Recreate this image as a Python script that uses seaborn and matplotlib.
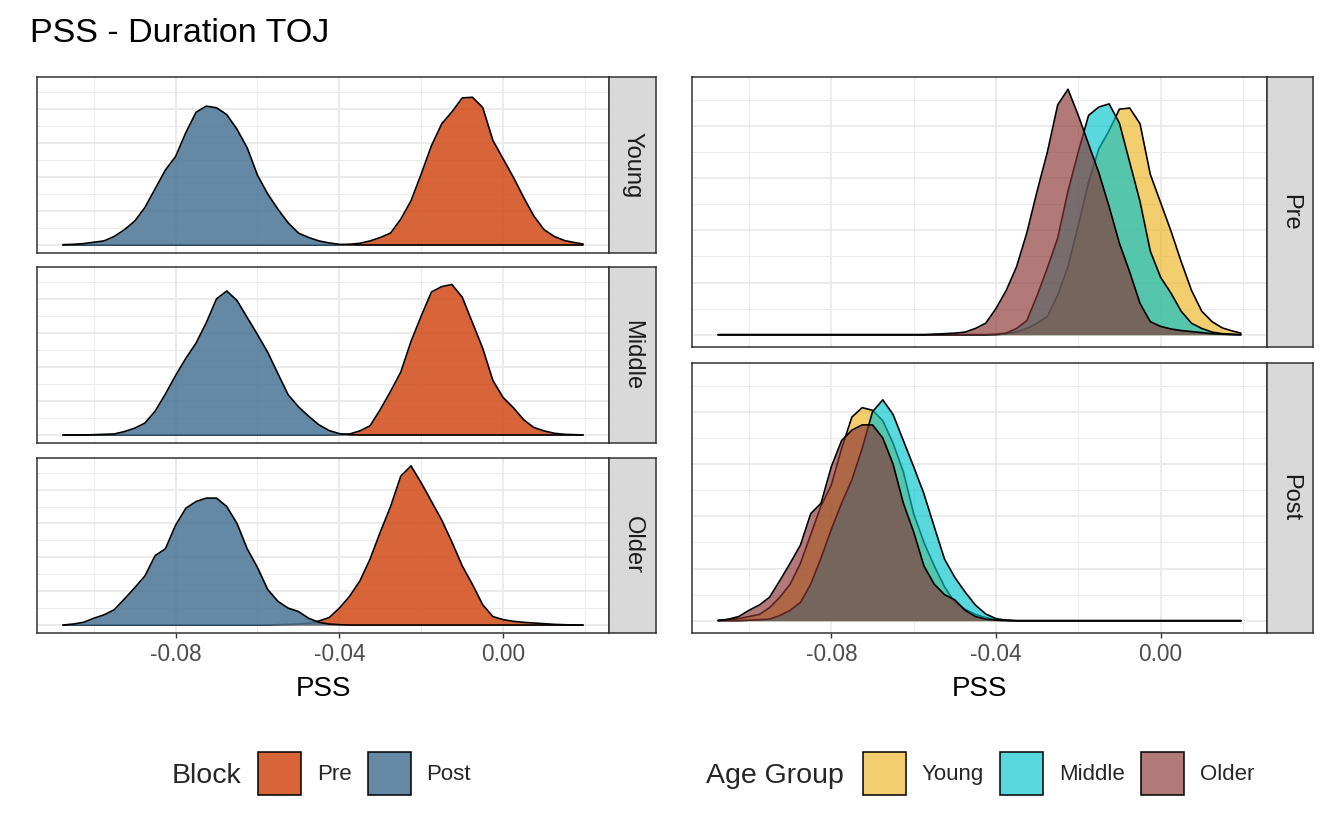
import numpy as np
import seaborn as sns
import matplotlib.pyplot as plt
from matplotlib.patches import Patch
from matplotlib.colors import to_rgba

sns.set_theme(style="white")
plt.rcParams['font.family'] = ['Liberation Sans', 'DejaVu Sans']

# PSS grid the densities were read on
pss = [-0.1075, -0.105, -0.1025, -0.1, -0.0975, -0.095, -0.0925, -0.09, -0.0875,
       -0.085, -0.0825, -0.08, -0.0775, -0.075, -0.0725, -0.07, -0.0675, -0.065,
       -0.0625, -0.06, -0.0575, -0.055, -0.0525, -0.05, -0.0475, -0.045, -0.0425,
       -0.04, -0.0375, -0.035, -0.0325, -0.03, -0.0275, -0.025, -0.0225, -0.02,
       -0.0175, -0.015, -0.0125, -0.01, -0.0075, -0.005, -0.0025, 0.0, 0.0025,
       0.005, 0.0075, 0.01, 0.0125, 0.015, 0.0175, 0.0195]

# posterior densities per age group and block
young_pre = [0, 0, 0, 0, 0, 0, 0, 0, 0, 0, 0, 0, 0, 0, 0, 0, 0, 0, 0, 0, 0, 0, 0, 0,
             0, 0, 0, 0, 0.2, 0.5, 1.2, 2.2, 3.5, 7.6, 13, 20.9, 29.2, 35.6, 39.1,
             43.2, 43.4, 40.4, 30.7, 25.3, 19.9, 14, 8.5, 4.5, 2.5, 1.3, 0.7, 0.3]
young_post = [0.1, 0.2, 0.4, 0.8, 1.2, 2.5, 4.5, 7, 11, 16.5, 22, 26, 33, 39, 40.8,
              40.3, 38.3, 34, 28.5, 20.5, 15, 10.5, 6.5, 3.5, 2.2, 1.2, 0.6, 0.2,
              0.1, 0, 0, 0, 0, 0, 0, 0, 0, 0, 0, 0, 0, 0, 0, 0, 0, 0, 0, 0, 0, 0, 0, 0]
middle_pre = [0, 0, 0, 0, 0, 0, 0, 0, 0, 0, 0, 0, 0, 0, 0, 0, 0, 0, 0, 0, 0, 0, 0, 0,
              0, 0, 0, 0.1, 0.3, 1.2, 2.7, 7.5, 12.8, 18.5, 27.5, 35, 42, 43.6, 44.2,
              40.5, 33, 25.5, 16, 11, 8, 4.5, 2.2, 1.2, 0.5, 0.2, 0.1, 0]
middle_post = [0, 0, 0, 0.1, 0.2, 0.3, 1.0, 2.0, 3.5, 7, 12, 17.5, 22.5, 27, 33, 40,
               42.3, 39.5, 34.5, 29.5, 24.3, 18, 11.8, 8.3, 5.5, 3, 1.3, 0.4, 0.1,
               0, 0, 0, 0, 0, 0, 0, 0, 0, 0, 0, 0, 0, 0, 0, 0, 0, 0, 0, 0, 0, 0, 0]
older_pre = [0, 0, 0, 0, 0, 0, 0, 0, 0, 0, 0, 0, 0, 0, 0, 0, 0, 0, 0, 0, 0, 0.1, 0.2,
             0.3, 0.5, 1.2, 2.2, 5, 8.5, 13, 19.5, 27.5, 35, 44, 47, 42, 36.5, 31,
             24.5, 17.5, 12, 6, 2.5, 1.6, 1.1, 0.8, 0.6, 0.4, 0.2, 0.1, 0, 0]
older_post = [0, 0.3, 0.8, 2.0, 3, 4.5, 7.7, 11, 14.5, 20.5, 22.5, 29.5, 34.5, 36.5,
              37.5, 37.5, 35, 30, 22.5, 17, 10.5, 7, 5, 4, 2, 0.8, 0.3, 0.1, 0, 0,
              0, 0, 0, 0, 0, 0, 0, 0, 0, 0, 0, 0, 0, 0, 0, 0, 0, 0, 0, 0, 0, 0]

ages = ["Young", "Middle", "Older"]
blocks = ["Pre", "Post"]
dens = {
    ("Young", "Pre"): young_pre, ("Young", "Post"): young_post,
    ("Middle", "Pre"): middle_pre, ("Middle", "Post"): middle_post,
    ("Older", "Pre"): older_pre, ("Older", "Post"): older_post,
}

block_colors = {"Pre": "#D24A17", "Post": "#4A7495"}
block_alpha = 0.85
age_colors = {"Young": "#EDB420", "Middle": "#00C3CC", "Older": "#893232"}
age_alpha = 0.65

W, H = 1344, 840
fig = plt.figure(figsize=(W / 100, H / 100), dpi=100)


def rect(x0, y0, x1, y1):
    return [x0 / W, 1 - y1 / H, (x1 - x0) / W, (y1 - y0) / H]


xlo, xhi = pss[0], pss[-1]
xpad = 0.05 * (xhi - xlo)
ymax = max(max(v) for v in dens.values())


def style_panel(ax, bottom):
    ax.set_xlim(xlo - xpad, xhi + xpad)
    ax.set_ylim(-0.05 * ymax, 1.05 * ymax)
    ax.set_xticks([-0.08, -0.04, 0.0])
    ax.set_xticks([-0.1, -0.06, -0.02, 0.02], minor=True)
    ax.set_xticklabels(["-0.08", "-0.04", "0.00"])
    ax.set_yticks([0, 10, 20, 30, 40])
    ax.set_yticks([5, 15, 25, 35, 45], minor=True)
    ax.set_axisbelow(True)
    ax.grid(which="major", color="#EBEBEB", lw=1.4)
    ax.grid(which="minor", color="#EBEBEB", lw=0.7)
    ax.tick_params(axis="y", which="both", left=False, labelleft=False)
    ax.tick_params(axis="x", which="minor", bottom=False)
    ax.tick_params(axis="x", which="major", bottom=bottom, labelbottom=bottom,
                   length=3.5, width=1, color="#333333", pad=4,
                   labelsize=16.3, labelcolor="#4D4D4D")
    for s in ax.spines.values():
        s.set_color("#333333")
        s.set_linewidth(1.1)
    ax.set_xlabel("")
    ax.set_ylabel("")


def strip(r, label):
    sa = fig.add_axes(rect(*r))
    sa.set_facecolor("#D9D9D9")
    sa.set_xticks([])
    sa.set_yticks([])
    for s in sa.spines.values():
        s.set_color("#333333")
        s.set_linewidth(1.1)
    sa.text(0.5, 0.5, label, rotation=270, ha="center", va="center",
            fontsize=17, color="#1A1A1A", transform=sa.transAxes)


# left: one row per age group, Pre vs Post
left_rows = [(77, 253), (267, 443), (458, 633)]
for i, (age, (y0, y1)) in enumerate(zip(ages, left_rows)):
    ax = fig.add_axes(rect(37, y0, 609, y1))
    for j, blk in enumerate(blocks):
        d = dens[(age, blk)]
        ax.fill_between(pss, d, color=block_colors[blk], alpha=block_alpha,
                        lw=0, zorder=2 + 2 * j)
        sns.lineplot(x=pss, y=d, color="black", lw=1.2, ax=ax,
                     estimator=None, sort=False, zorder=3 + 2 * j)
    style_panel(ax, bottom=(i == 2))
    strip((609, y0, 656, y1), age)
    if i == 2:
        ax.set_xlabel("PSS", fontsize=20, color="black", labelpad=7)

# right: one row per block, all age groups overlaid
right_rows = [(77, 347), (363, 633)]
for i, (blk, (y0, y1)) in enumerate(zip(blocks, right_rows)):
    ax = fig.add_axes(rect(692, y0, 1267, y1))
    for j, age in enumerate(ages):
        d = dens[(age, blk)]
        ax.fill_between(pss, d, color=age_colors[age], alpha=age_alpha,
                        lw=0, zorder=2 + 2 * j)
        sns.lineplot(x=pss, y=d, color="black", lw=1.2, ax=ax,
                     estimator=None, sort=False, zorder=3 + 2 * j)
    style_panel(ax, bottom=(i == 1))
    strip((1267, y0, 1313, y1), blk)
    if i == 1:
        ax.set_xlabel("PSS", fontsize=20, color="black", labelpad=7)

fig.text(30 / W, 1 - 42 / H, "PSS - Duration TOJ", fontsize=24.5,
         ha="left", va="baseline", color="black")

# legends
fs = 16
fpx = fs * 100 / 72
key = 43 / fpx
leg_kw = dict(frameon=False, fontsize=fs, handlelength=key,
              handleheight=(key - 0.245) / 0.65, handletextpad=16 / fpx,
              columnspacing=16 / fpx, borderpad=0, borderaxespad=0,
              loc="center left")

fig.text(172 / W, 1 - 783 / H, "Block", fontsize=20.5, va="baseline", ha="left")
h1 = [Patch(facecolor=to_rgba(block_colors[b], block_alpha), edgecolor="black",
            lw=1.1) for b in blocks]
fig.legend(h1, blocks, ncol=2, bbox_to_anchor=(258 / W, 1 - 773 / H), **leg_kw)

fig.text(706 / W, 1 - 783 / H, "Age Group", fontsize=20.5, va="baseline", ha="left")
h2 = [Patch(facecolor=to_rgba(age_colors[a], age_alpha), edgecolor="black",
            lw=1.1) for a in ages]
fig.legend(h2, ages, ncol=3, bbox_to_anchor=(863 / W, 1 - 773 / H), **leg_kw)

fig.savefig("out.png", dpi=100, facecolor="white")
